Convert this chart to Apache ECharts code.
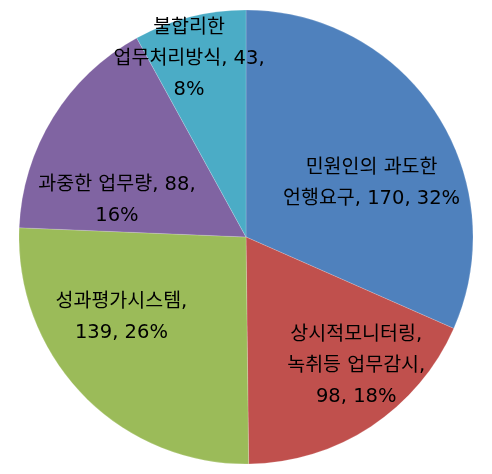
<!DOCTYPE html>
<html>
<head>
<meta charset="utf-8">
<script src="https://cdn.jsdelivr.net/npm/echarts@6/dist/echarts.min.js"></script>
<style>
  html, body { margin: 0; padding: 0; background: #fff; }
  #chart { width: 492px; height: 474px; }
</style>
</head>
<body>
<div id="chart"></div>
<script>
// 범주와 값
var categories = ['민원인의 과도한 언행요구', '상시적모니터링, 녹취등 업무감시', '성과평가시스템', '과중한 업무량', '불합리한 업무처리방식'];
var values = [170, 98, 139, 88, 43];
// 라벨 줄바꿈 형태 (원본 그림과 같게)
var labelTexts = [
	'민원인의 과도한\n언행요구, {c}, {d}%',
	'상시적모니터링,\n녹취등 업무감시,\n{c}, {d}%',
	'성과평가시스템,\n{c}, {d}%',
	'과중한 업무량, {c},\n{d}%',
	'불합리한\n업무처리방식, {c},\n{d}%'
];
var colors = ['#4F81BD', '#C0504D', '#9BBB59', '#8064A2', '#4BACC6'];
// 라벨 위치 보정
var labelNudge = [[28, 10], [46, 32], [-41, -1], [-30, 25], [-28, -65]];

var chart = echarts.init(document.getElementById('chart'));

var data = [];
for (var i = 0; i < categories.length; i++) {
	data.push({
		name : categories[i],
		value : values[i],
		itemStyle : { color : colors[i] }
	});
}

var option = {
	animation : false,
	series : [ {
		type : 'pie',
		center : [246, 237],
		radius : [0, 227],
		startAngle : 90,
		clockwise : true,
		percentPrecision : 0,
		itemStyle : {
			borderColor : 'rgba(255,255,255,0.35)',
			borderWidth : 0.5
		},
		label : {
			show : true,
			position : 'inside',
			fontFamily : '"DejaVu Sans", "Noto Sans CJK KR", sans-serif',
			fontSize : 19.5,
			lineHeight : 31,
			color : '#000',
			align : 'center',
			formatter : function(p) {
				return labelTexts[p.dataIndex]
					.replace('{c}', p.value)
					.replace('{d}', p.percent);
			}
		},
		labelLine : { show : false },
		labelLayout : function(p) {
			return { dx : labelNudge[p.dataIndex][0], dy : labelNudge[p.dataIndex][1] };
		},
		emphasis : { disabled : true },
		data : data
	} ]
};

chart.setOption(option);
</script>
</body>
</html>
